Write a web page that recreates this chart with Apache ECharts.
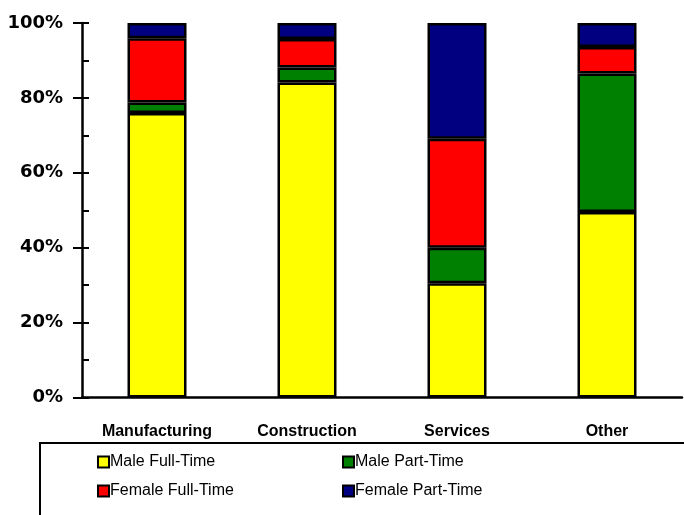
<!DOCTYPE html>
<html><head><meta charset="utf-8">
<script src="https://cdn.jsdelivr.net/npm/echarts@6/dist/echarts.min.js"></script>
<style>html,body{margin:0;padding:0;background:#fff}#c{width:684px;height:515px}</style>
</head><body><div id="c"></div>
<script>
const categories = ['Manufacturing', 'Construction', 'Services', 'Other'];
const maleFullTime = [76.0, 84.1, 30.5, 49.5];
const malePartTime = [2.8, 4.0, 9.5, 37.0];
const femaleFullTime = [17.1, 7.6, 29.1, 7.1];
const femalePartTime = [4.1, 4.3, 30.9, 6.4];
const yTicks = [0, 20, 40, 60, 80, 100];

const seriesDefs = [
  ['Male Full-Time', maleFullTime, '#FFFF00'],
  ['Male Part-Time', malePartTime, '#008000'],
  ['Female Full-Time', femaleFullTime, '#FF0000'],
  ['Female Part-Time', femalePartTime, '#000080']
];

const chart = echarts.init(document.getElementById('c'), null, {renderer: 'canvas'});
const legendText = {color: '#000', fontSize: 16, fontFamily: "'Liberation Sans', Arial, sans-serif", padding: [0, 0, 0, -4]};
chart.setOption({
  animation: false,
  backgroundColor: '#fff',
  grid: {left: 82, right: 2, top: 23, bottom: 117.5, containLabel: false},
  xAxis: {
    type: 'category', data: categories,
    axisLine: {lineStyle: {color: '#000', width: 2.5}},
    axisTick: {show: false},
    axisLabel: {interval: 0, color: '#000', fontWeight: 'bold', fontSize: 16, fontFamily: "'Liberation Sans', Arial, sans-serif", margin: 26}
  },
  yAxis: [{
    type: 'value', min: yTicks[0], max: yTicks[yTicks.length - 1], interval: 20,
    axisLine: {show: true, lineStyle: {color: '#000', width: 2.5}},
    axisTick: {show: true, inside: false, length: 9, lineStyle: {color: '#000', width: 2}},
    splitLine: {show: false},
    axisLabel: {color: '#000', fontWeight: 'bold', fontSize: 18, fontFamily: "'DejaVu Sans', sans-serif", margin: 19, formatter: '{value}%'}
  }, {
    type: 'value', min: 0, max: 100, interval: 10, position: 'left',
    axisLine: {show: false},
    axisTick: {show: true, inside: true, length: 7, lineStyle: {color: '#000', width: 2}},
    splitLine: {show: false},
    axisLabel: {show: false}
  }],
  legend: [{
    orient: 'vertical', left: 92, top: 449, itemWidth: 11, itemHeight: 11, itemGap: 13,
    icon: 'rect',
    data: ['Male Full-Time', 'Female Full-Time'],
    textStyle: legendText,
    itemStyle: {borderColor: '#000', borderWidth: 2}
  }, {
    orient: 'vertical', left: 337, top: 449, itemWidth: 11, itemHeight: 11, itemGap: 13,
    icon: 'rect',
    data: ['Male Part-Time', 'Female Part-Time'],
    textStyle: legendText,
    itemStyle: {borderColor: '#000', borderWidth: 2}
  }],
  graphic: [{
    type: 'rect', shape: {x: 40, y: 443, width: 700, height: 120},
    style: {fill: 'none', stroke: '#000', lineWidth: 2}, silent: true, z: -1
  }],
  series: seriesDefs.map(([name, data, color]) => ({
    name, type: 'bar', stack: 'total', data, barWidth: 59,
    itemStyle: {color, borderColor: '#000', borderWidth: 2.5}
  }))
});
</script></body></html>
